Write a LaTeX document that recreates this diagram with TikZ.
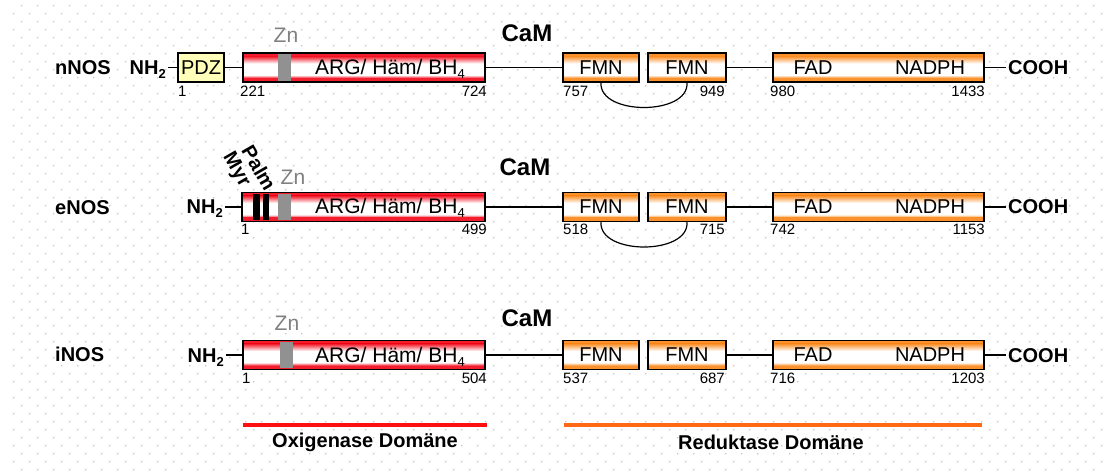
\documentclass[tikz,border=0pt]{standalone}
\usepackage{fontspec}
\setmainfont{Liberation Sans}
\definecolor{boxred}{RGB}{242,30,45}
\definecolor{boxorange}{RGB}{250,145,45}
\definecolor{pdzyellow}{RGB}{255,255,185}
\definecolor{zngray}{RGB}{128,128,128}
\definecolor{stripegray}{RGB}{145,145,145}
\definecolor{dotgray}{RGB}{198,198,198}
\definecolor{oxred}{RGB}{255,16,16}
\definecolor{redorange}{RGB}{255,105,20}
\newcommand{\sbs}[1]{\raisebox{-4pt}{\fontsize{13}{13}\selectfont #1}}
\begin{document}
\begin{tikzpicture}[x=1pt,y=-1pt,
  dom/.style={draw=black, line width=1.5pt, inner sep=0pt, minimum height=29pt, font=\fontsize{20}{20}\selectfont},
  gradbox/.style={dom, fill=white, path picture={
     \fill[#1] (path picture bounding box.north west) rectangle ([yshift=-3.5pt]path picture bounding box.north east);
     \shade[top color=#1, bottom color=white] ([yshift=-3.4pt]path picture bounding box.north west) rectangle ([yshift=-10.5pt]path picture bounding box.north east);
     \shade[top color=white, bottom color=#1] ([yshift=7pt]path picture bounding box.south west) rectangle ([yshift=3.9pt]path picture bounding box.south east);
     \fill[#1] ([yshift=4pt]path picture bounding box.south west) rectangle (path picture bounding box.south east);
  }},
  redbox/.style={gradbox=boxred},
  orbox/.style={gradbox=boxorange},
  pdzbox/.style={dom, fill=pdzyellow},
  conn/.style={line width=1.4pt},
  arcline/.style={line width=1.2pt},
  lbl/.style={font=\fontsize{20}{20}\selectfont, inner sep=0pt},
  arglbl/.style={font=\fontsize{21}{21}\selectfont, inner sep=0pt},
  blbl/.style={font=\bfseries\fontsize{20}{20}\selectfont, inner xsep=2pt, inner ysep=0pt},
  camlbl/.style={font=\bfseries\fontsize{24}{24}\selectfont, inner sep=0pt},
  num/.style={font=\fontsize{15}{15}\selectfont, inner sep=0pt},
  znlbl/.style={font=\fontsize{21}{21}\selectfont, text=zngray, inner sep=0pt},
  rotlbl/.style={font=\bfseries\fontsize{20}{20}\selectfont, inner sep=0pt, rotate=-60},
  domlbl/.style={font=\bfseries\fontsize{20}{20}\selectfont, inner sep=0pt},
  zn/.style={fill=stripegray},
  bar/.style={fill=black}
]
\useasboundingbox (0,0) rectangle (1109,473);
\fill[white] (0,0) rectangle (1109,473);
\foreach \j in {0,...,58} {
  \pgfmathsetmacro\yy{5.7+8*\j}
  \pgfmathsetmacro\xo{13.7+8*mod(\j+1,2)}
  \fill[dotgray] \foreach \i in {0,...,68} { (\xo+16*\i,\yy) circle (0.85) };
}

% ================= Row 1: nNOS =================
\node[blbl, anchor=base west] (nnos) at (53,75) {nNOS};
\node[blbl, anchor=base east] (nh1) at (168,74.5) {NH\sbs{2}};
\node[pdzbox, minimum width=46pt] (pdz1) at (201,67.5) {PDZ};
\node[redbox, minimum width=242pt] (arg1) at (364,67.5) {};
\fill[zn] (278,54.3) rectangle (291,80.7);
\node[arglbl, anchor=base] (argt1) at (390,74.5) {ARG/ Häm/ BH\sbs{4}};
\node[znlbl] (zn1) at (286,35) {Zn};
\node[camlbl] (cam1) at (527,33) {CaM};
\node[orbox, minimum width=76pt] (fmn1a) at (601,67.5) {FMN};
\node[orbox, minimum width=78pt] (fmn1b) at (687,67.5) {FMN};
\node[orbox, minimum width=211pt] (fad1) at (878.5,67.5) {};
\node[lbl] (fadt1) at (813,67.5) {FAD};
\node[lbl] (nadph1) at (930,67.5) {NADPH};
\node[blbl, anchor=base west] (cooh1) at (1006,74.5) {COOH};
\draw[conn] (nh1.east |- pdz1.west) -- (pdz1.west);
\draw[conn] (pdz1.east) -- (arg1.west);
\draw[conn] (arg1.east) -- (fmn1a.west);
\draw[conn] (fmn1b.east) -- (fad1.west);
\draw[conn] (fad1.east) -- (cooh1.west |- fad1.east);
\draw[arcline] (fmn1a.south) .. controls +(-2,33) and +(2,33) .. (fmn1b.south);
\node[num, anchor=base west] (n1a) at (178,97) {1};
\node[num, anchor=base west] (n1b) at (240,97) {221};
\node[num, anchor=base east] (n1c) at (487,97) {724};
\node[num, anchor=base west] (n1d) at (563,97) {757};
\node[num, anchor=base east] (n1e) at (725,97) {949};
\node[num, anchor=base west] (n1f) at (770,97) {980};
\node[num, anchor=base east] (n1g) at (985,97) {1433};

% ================= Row 2: eNOS =================
\node[blbl, anchor=base west] (enos) at (53,215) {eNOS};
\node[blbl, anchor=base east] (nh2) at (225,214) {NH\sbs{2}};
\node[redbox, minimum width=243pt] (arg2) at (363.5,207) {};
\fill[bar] (253,193.8) rectangle (260,220.2);
\fill[bar] (263,193.8) rectangle (269,220.2);
\fill[zn] (278,193.8) rectangle (291,220.2);
\node[arglbl, anchor=base] (argt2) at (390,214) {ARG/ Häm/ BH\sbs{4}};
\node[znlbl] (zn2) at (293,177) {Zn};
\node[rotlbl] (myr) at (236,170) {Myr};
\node[rotlbl] (palm) at (259,168) {Palm};
\node[camlbl] (cam2) at (525,167) {CaM};
\node[orbox, minimum width=76pt] (fmn2a) at (601,207) {FMN};
\node[orbox, minimum width=78pt] (fmn2b) at (687,207) {FMN};
\node[orbox, minimum width=211pt] (fad2) at (878.5,207) {};
\node[lbl] (fadt2) at (813,207) {FAD};
\node[lbl] (nadph2) at (930,207) {NADPH};
\node[blbl, anchor=base west] (cooh2) at (1006,214) {COOH};
\draw[conn] (nh2.east |- arg2.west) -- (arg2.west);
\draw[conn] (arg2.east) -- (fmn2a.west);
\draw[conn] (fmn2b.east) -- (fad2.west);
\draw[conn] (fad2.east) -- (cooh2.west |- fad2.east);
\draw[arcline] (fmn2a.south) .. controls +(-2,33) and +(2,33) .. (fmn2b.south);
\node[num, anchor=base west] (n2a) at (241,235) {1};
\node[num, anchor=base east] (n2c) at (487,235) {499};
\node[num, anchor=base west] (n2d) at (563,235) {518};
\node[num, anchor=base east] (n2e) at (725,235) {715};
\node[num, anchor=base west] (n2f) at (770,235) {742};
\node[num, anchor=base east] (n2g) at (985,235) {1153};

% ================= Row 3: iNOS =================
\node[blbl, anchor=base west] (inos) at (53,361) {iNOS};
\node[blbl, anchor=base east] (nh3) at (226,362) {NH\sbs{2}};
\node[redbox, minimum width=242pt] (arg3) at (364,355) {};
\fill[zn] (280,341.8) rectangle (293,368.2);
\node[arglbl, anchor=base] (argt3) at (390,362) {ARG/ Häm/ BH\sbs{4}};
\node[znlbl] (zn3) at (287,323) {Zn};
\node[camlbl] (cam3) at (527,318) {CaM};
\node[orbox, minimum width=76pt] (fmn3a) at (601,355) {FMN};
\node[orbox, minimum width=78pt] (fmn3b) at (687,355) {FMN};
\node[orbox, minimum width=211pt] (fad3) at (878.5,355) {};
\node[lbl] (fadt3) at (813,355) {FAD};
\node[lbl] (nadph3) at (930,355) {NADPH};
\node[blbl, anchor=base west] (cooh3) at (1006,362) {COOH};
\draw[conn] (nh3.east |- arg3.west) -- (arg3.west);
\draw[conn] (arg3.east) -- (fmn3a.west);
\draw[conn] (fmn3b.east) -- (fad3.west);
\draw[conn] (fad3.east) -- (cooh3.west |- fad3.east);
\node[num, anchor=base west] (n3a) at (242,383) {1};
\node[num, anchor=base east] (n3c) at (487,383) {504};
\node[num, anchor=base west] (n3d) at (563,383) {537};
\node[num, anchor=base east] (n3e) at (725,383) {687};
\node[num, anchor=base west] (n3f) at (770,383) {716};
\node[num, anchor=base east] (n3g) at (985,383) {1203};

% ================= Domains =================
\coordinate (oxa) at (243,425);
\coordinate (oxb) at (487,425);
\coordinate (rea) at (564,425);
\coordinate (reb) at (982,425);
\draw[oxred, line width=4pt] (oxa) -- (oxb);
\draw[redorange, line width=3.5pt] (rea) -- (reb);
\node[domlbl] (oxlbl) at (365,442) {Oxigenase Domäne};
\node[domlbl] (relbl) at (771,442) {Reduktase Domäne};
\end{tikzpicture}
\end{document}
